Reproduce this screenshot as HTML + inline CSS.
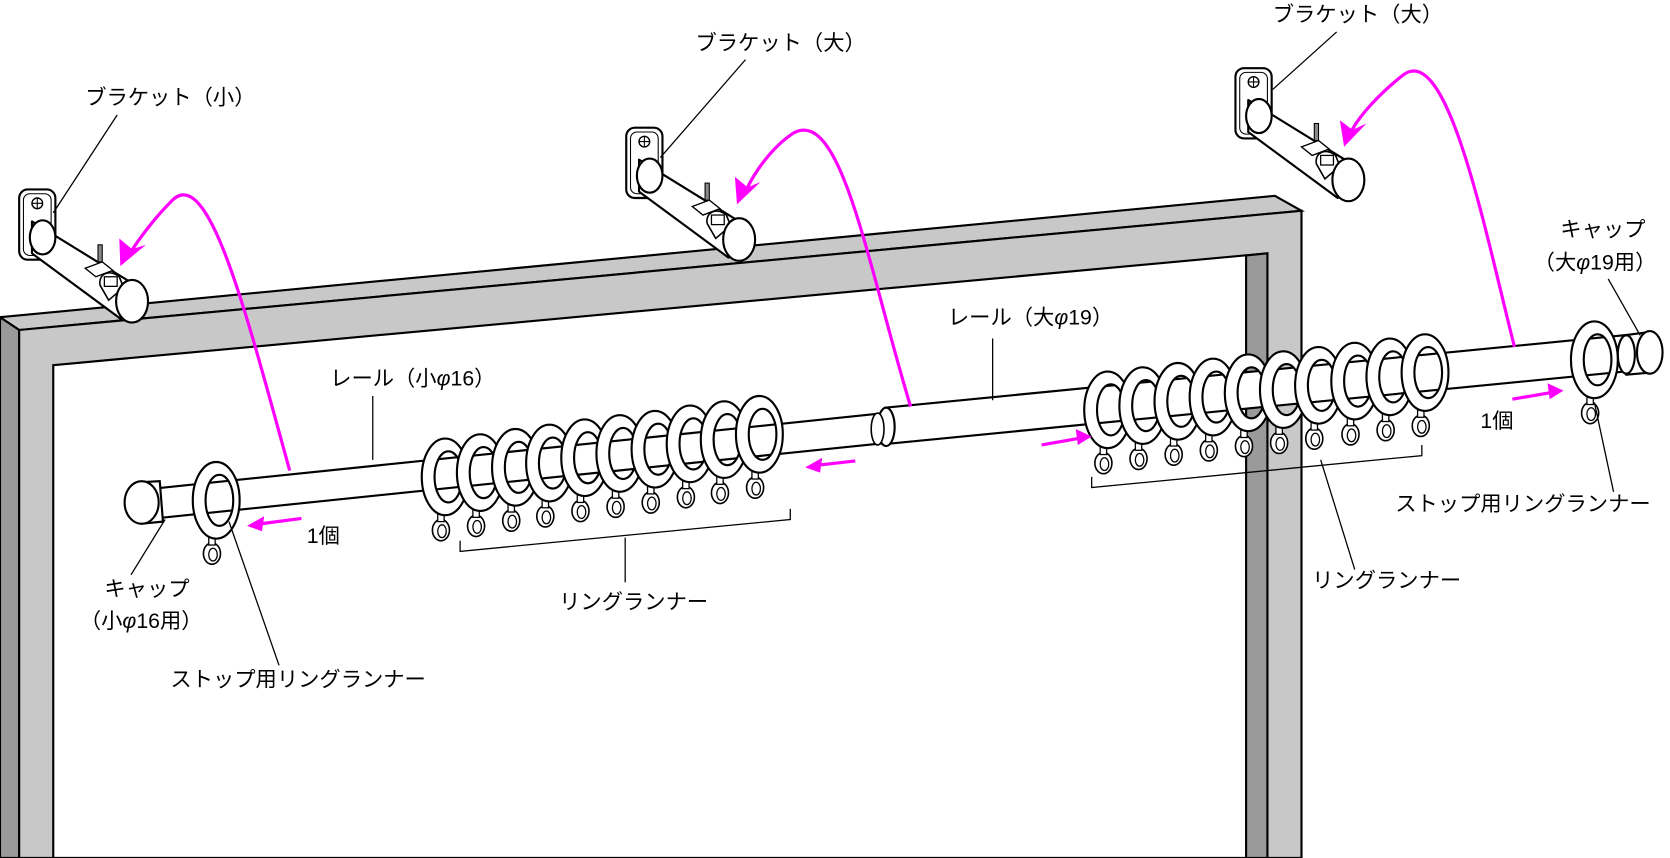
<!DOCTYPE html>
<html><head><meta charset="utf-8"><style>
html,body{margin:0;padding:0;background:#fff}
svg{display:block}
text{font-family:"Liberation Sans","Noto Sans CJK JP",sans-serif;font-size:20px;fill:#000}
</style></head><body>
<svg width="1670" height="858" viewBox="0 0 1568 806" preserveAspectRatio="none" xmlns="http://www.w3.org/2000/svg">
<defs>
<g id="ring">
 <ellipse cx="-4" cy="50" rx="8" ry="10" fill="#fff" stroke="#000" stroke-width="1.5"/>
 <ellipse cx="-3" cy="51" rx="4" ry="6" fill="none" stroke="#000" stroke-width="1.2"/>
 <rect x="-7" y="34" width="6" height="8" fill="#fff" stroke="#000" stroke-width="1.2"/>
 <path d="M-22,0 A22,36 0 1 0 22,0 A22,36 0 1 0 -22,0 Z M-10,0 A13,24 0 1 0 16,0 A13,24 0 1 0 -10,0 Z" fill="#fff" fill-rule="evenodd" stroke="#000" stroke-width="2"/>
</g>
<g id="brk">
 <rect x="0" y="0" width="34" height="66" rx="8" fill="#fff" stroke="#000" stroke-width="2"/>
 <rect x="4" y="4" width="26" height="58" rx="6" fill="none" stroke="#000" stroke-width="1"/>
 <circle cx="17" cy="13" r="5" fill="none" stroke="#000" stroke-width="1.3"/>
 <path d="M12,13h10M17,8v10" stroke="#000" stroke-width="1"/>
 <path d="M12,30 L106,88 L96,122 L12,60 Z" fill="#fff" stroke="#000" stroke-width="2" stroke-linejoin="round"/>
 <ellipse cx="22" cy="45" rx="12" ry="16" fill="#fff" stroke="#000" stroke-width="2"/>
 <path d="M62,74 L78,68 L88,76 L72,82 Z" fill="#fff" stroke="#000" stroke-width="1.3"/>
 <rect x="74" y="52" width="4" height="16" fill="#888" stroke="#000" stroke-width="1"/>
 <path d="M76,90 C74,80 84,74 94,82 L98,92 L84,104 Z" fill="#fff" stroke="#000" stroke-width="1.5"/>
 <rect x="80" y="82" width="12" height="9" fill="#fff" stroke="#000" stroke-width="1.2"/>
 <ellipse cx="106" cy="105" rx="15" ry="20" fill="#fff" stroke="#000" stroke-width="2"/>
</g>
</defs>
<!-- frame -->
<polygon points="0,298 1197,184 1222,198 18,310" fill="#c8c8c8" stroke="#000" stroke-width="2"/>
<polygon points="0,298 18,310 18,806 0,806" fill="#9a9a9a" stroke="#000" stroke-width="2"/>
<polygon points="18,310 1222,198 1222,806 18,806" fill="#c8c8c8" stroke="#000" stroke-width="2"/>
<polygon points="50,343 1190,238 1190,806 50,806" fill="#fff" stroke="#000" stroke-width="2"/>
<polygon points="1170,240 1190,238 1190,806 1170,806" fill="#9a9a9a" stroke="#000" stroke-width="2"/>

<!-- brackets -->
<use href="#brk" x="18" y="178"/>
<use href="#brk" x="588" y="120"/>
<use href="#brk" x="1160" y="64"/>

<!-- rods -->
<line x1="135" y1="474" x2="832" y2="402" stroke="#000" stroke-width="30"/>
<line x1="135" y1="474" x2="832" y2="402" stroke="#fff" stroke-width="26"/>
<line x1="832" y1="400" x2="1545" y2="330" stroke="#000" stroke-width="36"/>
<line x1="832" y1="400" x2="1545" y2="330" stroke="#fff" stroke-width="32"/>
<ellipse cx="832" cy="401" rx="8" ry="18" fill="#fff" stroke="#000" stroke-width="2"/>
<ellipse cx="824" cy="403" rx="6" ry="15" fill="#fff" stroke="#000" stroke-width="1.5"/>
<!-- left cap -->
<path d="M133,453 L150,452 L153,490 L133,492 Z" fill="#fff" stroke="#000" stroke-width="2"/>
<ellipse cx="133" cy="472" rx="16" ry="20" fill="#fff" stroke="#000" stroke-width="2"/>
<!-- right cap -->
<path d="M1525,315 L1548,312 L1550,350 L1527,352 Z" fill="#fff" stroke="#000" stroke-width="2"/>
<ellipse cx="1527" cy="333" rx="8" ry="18" fill="#fff" stroke="#000" stroke-width="2"/>
<ellipse cx="1549" cy="331" rx="12" ry="20" fill="#fff" stroke="#000" stroke-width="2"/>

<!-- rings -->
<use href="#ring" x="203" y="470"/>
<use href="#ring" x="418" y="448"/><use href="#ring" x="451" y="444"/><use href="#ring" x="484" y="439"/><use href="#ring" x="516" y="435"/><use href="#ring" x="549" y="430"/><use href="#ring" x="582" y="426"/><use href="#ring" x="615" y="422"/><use href="#ring" x="648" y="417"/><use href="#ring" x="680" y="413"/><use href="#ring" x="713" y="408"/>
<use href="#ring" x="1040" y="385"/><use href="#ring" x="1073" y="381"/><use href="#ring" x="1106" y="377"/><use href="#ring" x="1139" y="373"/><use href="#ring" x="1172" y="369"/><use href="#ring" x="1205" y="366"/><use href="#ring" x="1238" y="362"/><use href="#ring" x="1272" y="358"/><use href="#ring" x="1305" y="354"/><use href="#ring" x="1338" y="350"/>
<use href="#ring" x="1497" y="338"/>

<!-- leader lines -->
<g stroke="#000" stroke-width="1.2" fill="none">
<path d="M110,108 L50,200"/>
<path d="M700,56 L620,148"/>
<path d="M1255,30 L1195,84"/>
<path d="M1510,262 L1540,315"/>
<path d="M932,318 L932,376"/>
<path d="M350,372 L350,432"/>
<path d="M1497,378 L1515,462"/>
<path d="M1240,432 L1272,535"/>
<path d="M1025,448 L1025,458 L1335,428 L1335,418"/>
<path d="M432,508 L432,518 L742,488 L742,478"/>
<path d="M587,505 L587,547"/>
<path d="M155,488 L123,540"/>
<path d="M215,490 L262,625"/>
</g>

<!-- magenta arrows -->
<g stroke="#f0f" stroke-width="3" fill="none">
<path d="M272,442 C230,290 195,150 160,190 C145,205 130,225 122,238"/>
<path d="M855,382 C815,250 790,100 745,125 C725,138 708,162 700,180"/>
<path d="M1422,326 C1395,220 1360,40 1318,70 C1295,88 1275,110 1268,125"/>
<path d="M283,487 L245,492"/><path d="M803,433 L768,437"/><path d="M978,418 L1012,412"/><path d="M1420,375 L1455,369"/>
</g>
<g fill="#f0f">
<polygon points="113,250 112,224 124,234 137,230"/>
<polygon points="692,192 690,166 702,176 714,171"/>
<polygon points="1262,138 1258,113 1270,122 1283,116"/>
<polygon points="232,494 248,485 246,499"/>
<polygon points="756,439 772,430 770,444"/>
<polygon points="1025,410 1010,403 1012,418"/>
<polygon points="1468,367 1453,360 1455,375"/>
</g>

<!-- labels -->
<text x="80" y="98">ブラケット（小）</text>
<text x="653" y="47">ブラケット（大）</text>
<text x="1195" y="20">ブラケット（大）</text>
<text x="1465" y="222">キャップ</text>
<text x="1440" y="253">（大<tspan font-style="italic">φ</tspan>19用）</text>
<text x="890" y="305">レール（大<tspan font-style="italic">φ</tspan>19）</text>
<text x="310" y="362">レール（小<tspan font-style="italic">φ</tspan>16）</text>
<text x="1390" y="402">1個</text>
<text x="288" y="510">1個</text>
<text x="1310" y="480">ストップ用リングランナー</text>
<text x="1232" y="552">リングランナー</text>
<text x="525" y="572">リングランナー</text>
<text x="98" y="560">キャップ</text>
<text x="75" y="590">（小<tspan font-style="italic">φ</tspan>16用）</text>
<text x="160" y="645">ストップ用リングランナー</text>
</svg>
</body></html>
